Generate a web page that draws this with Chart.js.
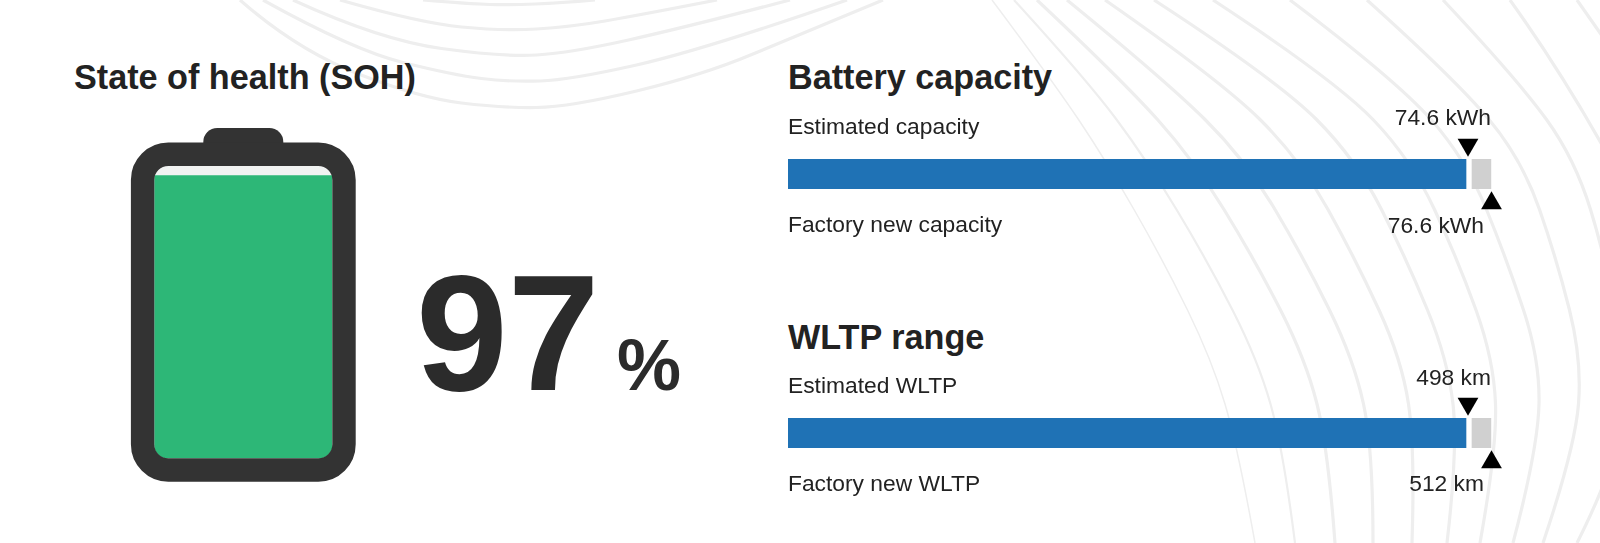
<!DOCTYPE html>
<html>
  <head>
    <title>Battery report</title>
    <script src="https://cdn.jsdelivr.net/npm/chart.js"></script>
    <style>
      html, body { margin: 0; padding: 0; background: #fff; }
      #page { position: relative; width: 1600px; height: 543px; overflow: hidden; font-family: "Liberation Sans", Arial, sans-serif; color: #222; }
      #page svg, #page canvas { position: absolute; }
      .txt { position: absolute; white-space: nowrap; line-height: 40px; height: 40px; font-size: 22.8px; }
      .head { font-size: 34.2px; font-weight: bold; }
      .big { font-size: 165px; font-weight: bold; color: #2b2b2b; line-height: 200px; height: 200px; }
      .pct { font-size: 72px; font-weight: bold; color: #2b2b2b; line-height: 80px; height: 80px; }
    </style>
  </head>
  <body>
    <div id="page">
      <svg id="bg" width="1600" height="543"></svg>
      <canvas id="battery-chart" width="250" height="370" style="left:120px;top:120px"></canvas>
      <canvas id="capacity-chart" width="722" height="88" style="left:788px;top:130px"></canvas>
      <canvas id="wltp-chart" width="722" height="88" style="left:788px;top:389px"></canvas>
    </div>

    <script>
      const sohPercent = [96.7];
      const sohFull = [100];

      const rows = ["Estimated", "Bar", "Factory new"];

      const capacityEstimated = [74.6];
      const capacityFactory = [76.6];
      const capacityAxisMin = 16.7;

      const wltpEstimated = [498];
      const wltpFactory = [512];
      const wltpAxisMin = 93;

      // Background ripple lines, only decoration
      const bgArcs = [
        [[240, 0], [297, 50], [420, 98], [503, 108], [570, 107], [703, 75], [803, 33], [883, 0]],
        [[263, 0], [353, 50], [453, 75], [510, 82], [570, 80], [703, 50], [847, 0]],
        [[293, 0], [380, 40], [503, 57], [570, 53], [687, 27], [790, 0]],
        [[340, 0], [420, 23], [503, 31], [570, 27], [640, 15], [717, 0]],
        [[423, 0], [470, 4], [510, 5], [560, 3], [595, 0]],
        [[992, 0], [1052, 80], [1105, 159], [1163, 260], [1212, 360], [1238, 448], [1255, 543]],
        [[1014, 0], [1087, 80], [1146, 159], [1207, 260], [1258, 360], [1283, 448], [1295, 543]],
        [[1037, 0], [1122, 80], [1193, 159], [1255, 260], [1306, 360], [1328, 448], [1335, 543]],
        [[1067, 0], [1165, 80], [1245, 159], [1305, 260], [1354, 360], [1373, 448], [1373, 543]],
        [[1105, 0], [1220, 80], [1300, 159], [1356, 260], [1402, 360], [1415, 448], [1412, 543]],
        [[1154, 0], [1277, 80], [1356, 159], [1407, 260], [1448, 360], [1458, 448], [1447, 543]],
        [[1213, 0], [1335, 80], [1411, 159], [1458, 260], [1494, 360], [1497, 448], [1480, 543]],
        [[1290, 0], [1396, 80], [1466, 159], [1507, 260], [1540, 360], [1538, 448], [1513, 543]],
        [[1367, 0], [1456, 80], [1522, 159], [1557, 260], [1582, 360], [1575, 448], [1543, 543]],
        [[1443, 0], [1518, 80], [1575, 159], [1606, 260], [1622, 360], [1618, 440], [1600, 497], [1577, 543]],
        [[1510, 0], [1560, 70], [1605, 150]],
        [[1577, 0], [1605, 40]],
      ];

      // Smooth line with the points as control polygon
      function arcPath(pts) {
        let d = "M" + pts[0][0] + " " + pts[0][1];
        for (let i = 1; i < pts.length - 1; i++) {
          const last = i === pts.length - 2;
          const ex = last ? pts[i + 1][0] : (pts[i][0] + pts[i + 1][0]) / 2;
          const ey = last ? pts[i + 1][1] : (pts[i][1] + pts[i + 1][1]) / 2;
          d += " Q" + pts[i][0] + " " + pts[i][1] + " " + ex + " " + ey;
        }
        if (pts.length === 2) d += " L" + pts[1][0] + " " + pts[1][1];
        return d;
      }

      document.getElementById("bg").innerHTML = bgArcs
        .map((pts, i) => {
          const w = i === 5 ? 1.5 : i === 6 ? 2.2 : 3.2;
          return '<path d="' + arcPath(pts) + '" fill="none" stroke="#eeeeee" stroke-width="' + w + '"/>';
        })
        .join("");

      function addText(text, x, midY, cls, alignRight) {
        const el = document.createElement("div");
        el.className = "txt " + (cls || "");
        el.textContent = text;
        document.getElementById("page").appendChild(el);
        el.style.top = midY - el.offsetHeight / 2 + "px";
        if (alignRight) {
          el.style.right = 1600 - x + "px";
        } else {
          el.style.left = x + "px";
        }
      }

      addText("State of health (SOH)", 74, 77, "head");
      addText(String(Math.round(sohPercent[0])), 416, 333, "big");
      addText("%", 617, 365, "pct");

      addText("Battery capacity", 788, 77, "head");
      addText("Estimated capacity", 788, 126, "");
      addText("Factory new capacity", 788, 224, "");
      addText(capacityEstimated[0] + " kWh", 1491, 117, "", true);
      addText(capacityFactory[0] + " kWh", 1484, 225, "", true);

      addText("WLTP range", 788, 337, "head");
      addText("Estimated WLTP", 788, 385, "");
      addText("Factory new WLTP", 788, 483, "");
      addText(wltpEstimated[0] + " km", 1491, 377, "", true);
      addText(wltpFactory[0] + " km", 1484, 483, "", true);

      // Battery body and cap around the plot area
      const batteryShell = {
        id: "batteryShell",
        afterDatasetsDraw(chart) {
          const { ctx, chartArea: a } = chart;
          const t = 23.4;
          ctx.save();
          ctx.fillStyle = "#333333";
          ctx.beginPath();
          ctx.roundRect((a.left + a.right) / 2 - 40, a.top - 38, 80, 30, [14, 14, 0, 0]);
          ctx.fill();
          ctx.strokeStyle = "#333333";
          ctx.lineWidth = t;
          ctx.beginPath();
          ctx.roundRect(a.left - t / 2, a.top - t / 2, a.right - a.left + t, a.bottom - a.top + t, 14 + t / 2);
          ctx.stroke();
          ctx.restore();
        },
      };

      new Chart(document.getElementById("battery-chart"), {
        type: "bar",
        data: {
          labels: ["SOH"],
          datasets: [
            {
              data: sohPercent,
              backgroundColor: "#2db777",
              borderRadius: { bottomLeft: 14, bottomRight: 14 },
              borderSkipped: false,
              order: 0,
            },
            {
              data: sohFull,
              backgroundColor: "#f1f3f2",
              borderRadius: 14,
              borderSkipped: false,
              order: 1,
            },
          ],
        },
        plugins: [batteryShell],
        options: {
          responsive: false,
          animation: false,
          layout: { padding: { left: 34.3, right: 37.7, top: 46, bottom: 31.7 } },
          plugins: { legend: { display: false }, tooltip: { enabled: false } },
          scales: {
            x: { display: false, stacked: true, grid: { display: false } },
            y: { display: false, min: 0, max: 100, grid: { display: false } },
          },
          datasets: { bar: { barPercentage: 1, categoryPercentage: 1 } },
        },
      });

      function createGauge(id, estimated, factory, axisMin) {
        new Chart(document.getElementById(id), {
          data: {
            labels: rows,
            datasets: [
              {
                type: "bar",
                data: [{ x: estimated[0], y: rows[1] }],
                backgroundColor: "#1f72b5",
                borderColor: "#ffffff",
                borderWidth: { right: 2 },
                borderSkipped: false,
              },
              {
                type: "bar",
                data: [{ x: [estimated[0], factory[0]], y: rows[1] }],
                backgroundColor: "#d0d0d0",
                borderColor: "#ffffff",
                borderWidth: { left: 4 },
                borderSkipped: false,
              },
              {
                type: "scatter",
                data: [{ x: estimated[0], y: rows[0] }],
                pointStyle: "triangle",
                rotation: 180,
                radius: 12,
                backgroundColor: "#000000",
                borderWidth: 0,
                clip: false,
              },
              {
                type: "scatter",
                data: [{ x: factory[0], y: rows[2] }],
                pointStyle: "triangle",
                radius: 12,
                backgroundColor: "#000000",
                borderWidth: 0,
                clip: false,
              },
            ],
          },
          options: {
            indexAxis: "y",
            responsive: false,
            animation: false,
            layout: { autoPadding: false, padding: { right: 18.5 } },
            plugins: { legend: { display: false }, tooltip: { enabled: false } },
            datasets: { bar: { barThickness: 30 } },
            scales: {
              x: { type: "linear", display: false, min: axisMin, max: factory[0], grid: { display: false } },
              y: { type: "category", display: false, stacked: true, offset: true, grid: { display: false } },
            },
          },
        });
      }

      createGauge("capacity-chart", capacityEstimated, capacityFactory, capacityAxisMin);
      createGauge("wltp-chart", wltpEstimated, wltpFactory, wltpAxisMin);
    </script>
  </body>
</html>
